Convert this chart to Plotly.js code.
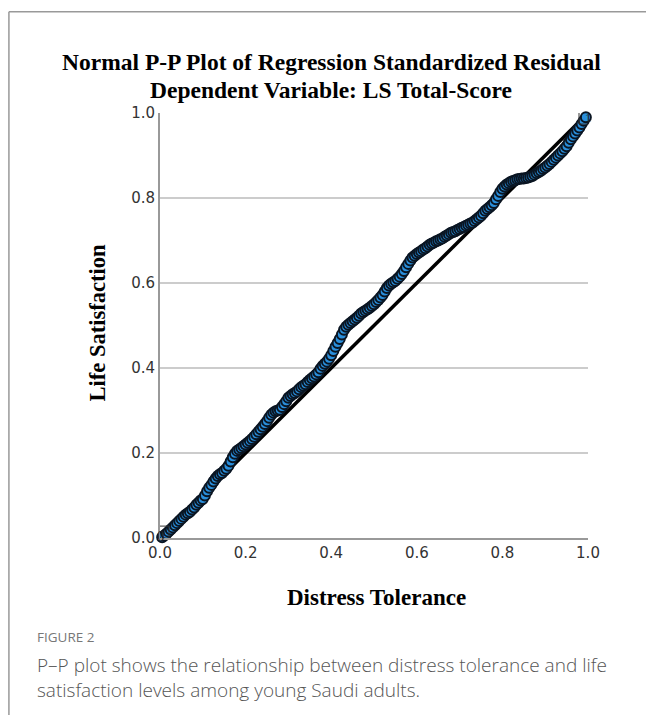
<!DOCTYPE html>
<html>
<head>
<meta charset="utf-8">
<script src="https://cdn.plot.ly/plotly-3.0.1.min.js"></script>
<style>html,body{margin:0;padding:0;background:#fff;}#chart{width:646px;height:715px;}</style>
</head>
<body>
<div id="chart"></div>
<script>
const obsCumProb = [0.005,0.01,0.015,0.02,0.025,0.03,0.035,0.04,0.045,0.05,0.055,0.06,0.065,0.07,0.075,0.08,0.085,0.09,0.095,0.10,0.105,0.11,0.115,0.12,0.125,0.13,0.135,0.14,0.145,0.15,0.155,0.16,0.165,0.17,0.175,0.18,0.185,0.19,0.195,0.20,0.205,0.21,0.215,0.22,0.225,0.23,0.235,0.24,0.245,0.25,0.255,0.26,0.265,0.27,0.275,0.28,0.285,0.29,0.295,0.30,0.305,0.31,0.315,0.32,0.325,0.33,0.335,0.34,0.345,0.35,0.355,0.36,0.365,0.37,0.375,0.38,0.385,0.39,0.395,0.40,0.405,0.41,0.415,0.42,0.425,0.43,0.435,0.44,0.445,0.45,0.455,0.46,0.465,0.47,0.475,0.48,0.485,0.49,0.495,0.50,0.505,0.51,0.515,0.52,0.525,0.53,0.535,0.54,0.545,0.55,0.555,0.56,0.565,0.57,0.575,0.58,0.585,0.59,0.595,0.60,0.605,0.61,0.615,0.62,0.625,0.63,0.635,0.64,0.645,0.65,0.655,0.66,0.665,0.67,0.675,0.68,0.685,0.69,0.695,0.70,0.705,0.71,0.715,0.72,0.725,0.73,0.735,0.74,0.745,0.75,0.755,0.76,0.765,0.77,0.775,0.78,0.785,0.79,0.795,0.80,0.805,0.81,0.815,0.82,0.825,0.83,0.835,0.84,0.845,0.85,0.855,0.86,0.865,0.87,0.875,0.88,0.885,0.89,0.895,0.90,0.905,0.91,0.915,0.92,0.925,0.93,0.935,0.94,0.945,0.95,0.955,0.96,0.965,0.97,0.975,0.98,0.985,0.99,0.995];
const expCumProb = [0.002,0.006,0.010,0.015,0.020,0.025,0.030,0.035,0.040,0.045,0.050,0.055,0.058,0.062,0.067,0.072,0.078,0.083,0.088,0.092,0.100,0.110,0.118,0.125,0.133,0.140,0.146,0.150,0.153,0.158,0.163,0.170,0.180,0.190,0.198,0.205,0.208,0.212,0.216,0.220,0.224,0.228,0.233,0.238,0.244,0.250,0.256,0.262,0.268,0.275,0.283,0.290,0.295,0.298,0.300,0.302,0.308,0.315,0.322,0.330,0.334,0.338,0.341,0.345,0.350,0.355,0.358,0.362,0.367,0.372,0.376,0.380,0.385,0.390,0.398,0.405,0.410,0.415,0.422,0.430,0.440,0.450,0.459,0.468,0.479,0.490,0.497,0.502,0.506,0.510,0.514,0.518,0.523,0.528,0.532,0.535,0.538,0.542,0.546,0.550,0.555,0.560,0.566,0.572,0.580,0.588,0.594,0.598,0.602,0.605,0.610,0.615,0.621,0.628,0.637,0.645,0.653,0.660,0.664,0.668,0.672,0.675,0.679,0.682,0.686,0.690,0.693,0.695,0.698,0.700,0.703,0.705,0.709,0.712,0.715,0.718,0.720,0.722,0.725,0.727,0.730,0.732,0.735,0.737,0.740,0.742,0.746,0.750,0.754,0.758,0.764,0.770,0.774,0.778,0.783,0.788,0.797,0.805,0.814,0.822,0.827,0.832,0.835,0.838,0.840,0.842,0.844,0.845,0.846,0.846,0.847,0.848,0.850,0.852,0.855,0.858,0.861,0.864,0.868,0.872,0.876,0.880,0.885,0.890,0.895,0.900,0.905,0.910,0.916,0.922,0.930,0.938,0.945,0.952,0.959,0.966,0.974,0.982,0.990];
const refLineX = [0, 1];
const refLineY = [0, 1];
const tickVals = [0, 0.2, 0.4, 0.6, 0.8, 1.0];
const tickText = ['0.0','0.2','0.4','0.6','0.8','1.0'];

const serif = 'Liberation Serif, Times New Roman, serif';
const sans = 'DejaVu Sans, Verdana, sans-serif';
const capFont = 'Open Sans, Noto Sans, sans-serif';

const traces = [
  {x: refLineX, y: refLineY, mode: 'lines', line: {color: '#000', width: 3.5}, hoverinfo: 'skip', showlegend: false, cliponaxis: false},
  {x: obsCumProb, y: expCumProb, mode: 'markers', showlegend: false, cliponaxis: false,
   marker: {size: 10, color: '#2a8fdc', line: {color: '#0a1522', width: 2}}}
];

const layout = {
  width: 646, height: 715,
  margin: {l: 160, r: 58, t: 113, b: 177},
  paper_bgcolor: '#fff', plot_bgcolor: '#fff',
  showlegend: false,
  xaxis: {range: [0, 1], tickvals: tickVals, ticktext: tickText, showgrid: false, zeroline: false,
    showline: true, linecolor: '#999', linewidth: 2, ticks: '', ticklen: 0,
    tickfont: {family: sans, size: 15, color: '#333'}},
  yaxis: {range: [0, 1], tickvals: tickVals, ticktext: tickText, showgrid: true, gridcolor: '#cccccc', gridwidth: 1.5,
    zeroline: false, showline: true, linecolor: '#999', linewidth: 2, ticks: '',
    tickfont: {family: sans, size: 15, color: '#333'}},
  annotations: [
    {text: 'Normal P-P Plot of Regression Standardized Residual', xref: 'paper', yref: 'paper', x: 0.40, y: 1.12, xanchor: 'center', yanchor: 'middle', showarrow: false, font: {family: serif, size: 23.5, color: '#000', weight: 'bold'}},
    {text: 'Dependent Variable: LS Total-Score', xref: 'paper', yref: 'paper', x: 0.40, y: 1.054, xanchor: 'center', yanchor: 'middle', showarrow: false, font: {family: serif, size: 23.5, color: '#000', weight: 'bold'}},
    {text: 'Distress Tolerance', xref: 'paper', yref: 'paper', x: 0.507, y: -0.139, xanchor: 'center', yanchor: 'middle', showarrow: false, font: {family: serif, size: 23, color: '#000', weight: 'bold'}},
    {text: 'Life Satisfaction', xref: 'paper', yref: 'paper', x: -0.147, y: 0.505, xanchor: 'center', yanchor: 'middle', textangle: -90, showarrow: false, font: {family: serif, size: 22.5, color: '#000', weight: 'bold'}},
    {text: 'FIGURE 2', xref: 'paper', yref: 'paper', x: -0.292, y: -0.233, xanchor: 'left', yanchor: 'middle', showarrow: false, font: {family: capFont, size: 13.5, color: '#777'}},
    {text: 'P\u2013P plot shows the relationship between distress tolerance and life', xref: 'paper', yref: 'paper', x: -0.292, y: -0.299, xanchor: 'left', yanchor: 'middle', showarrow: false, font: {family: capFont, size: 19, color: '#555', weight: 300}},
    {text: 'satisfaction levels among young Saudi adults.', xref: 'paper', yref: 'paper', x: -0.292, y: -0.358, xanchor: 'left', yanchor: 'middle', showarrow: false, font: {family: capFont, size: 19, color: '#555', weight: 300}},
    {text: '0', x: 0.003, y: 0.004, xref: 'x', yref: 'y', showarrow: false, xanchor: 'center', yanchor: 'middle', font: {family: serif, size: 15, color: '#222'}},
    {text: '1', x: 1.0, y: 0.99, xref: 'x', yref: 'y', showarrow: false, xanchor: 'center', yanchor: 'middle', font: {family: serif, size: 13, color: '#222'}}
  ],
  shapes: [
    {type: 'line', xref: 'paper', yref: 'paper', x0: -0.353, x1: -0.353, y0: 1.238, y1: -0.42, line: {color: '#999', width: 1.5}},
    {type: 'line', xref: 'paper', yref: 'paper', x0: -0.353, x1: 1.14, y0: 1.238, y1: 1.238, line: {color: '#999', width: 1.5}},
    {type: 'rect', xref: 'x', yref: 'y', x0: -0.016, x1: 0.021, y0: -0.021, y1: 0.028, line: {color: '#333', width: 1}},
    {type: 'rect', xref: 'x', yref: 'y', x0: 0.979, x1: 1.021, y0: 0.974, y1: 1.007, line: {color: '#333', width: 1}}
  ]
};

Plotly.newPlot('chart', traces, layout, {displayModeBar: false, staticPlot: true});
</script>
</body>
</html>
